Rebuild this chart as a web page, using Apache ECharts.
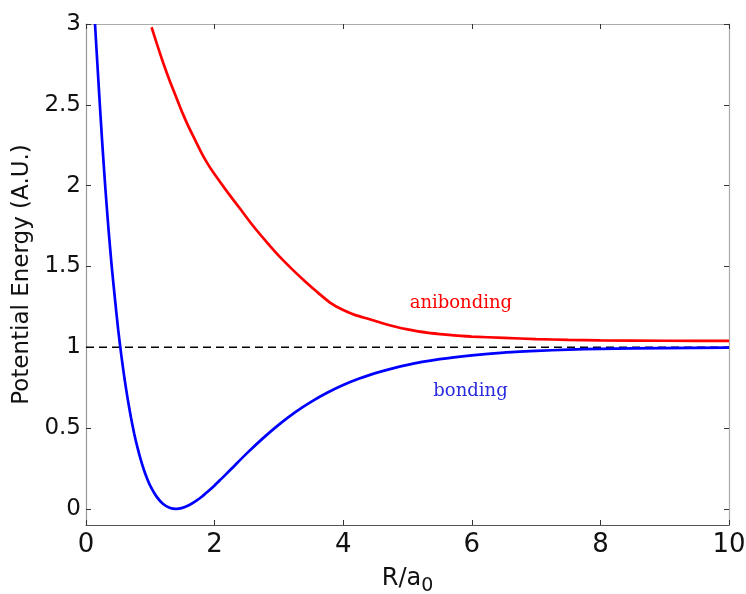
<!DOCTYPE html>
<html>
<head>
<meta charset="utf-8">
<script src="https://cdn.jsdelivr.net/npm/echarts@6/dist/echarts.min.js"></script>
<style>
  html, body { margin: 0; padding: 0; background: #fff; }
  #chart { width: 746px; height: 594px; }
</style>
</head>
<body>
<div id="chart"></div>
<script>
// Internuclear separation R/a0 and potential energy (A.U.) for the two states
const bondingR = [0.14, 0.2, 0.25, 0.3, 0.35, 0.4, 0.45, 0.5, 0.55, 0.6, 0.65, 0.7, 0.75, 0.8, 0.85, 0.9, 0.95,
  1.0, 1.1, 1.2, 1.3, 1.4, 1.5, 1.6, 1.7, 1.8, 1.9, 2.0, 2.1, 2.25, 2.5, 2.75, 3.0, 3.25, 3.5, 3.75,
  4.0, 4.25, 4.5, 5.0, 5.5, 6.0, 6.5, 7.0, 7.5, 8.0, 9.0, 10.0];
const bondingE = [3.00, 2.60, 2.28, 1.99, 1.73, 1.50, 1.30, 1.11, 0.948, 0.803, 0.676, 0.564, 0.465, 0.380, 0.306, 0.242, 0.188,
  0.142, 0.074, 0.030, 0.007, 0.000, 0.006, 0.022, 0.046, 0.075, 0.109, 0.145, 0.184, 0.243, 0.343, 0.436, 0.521, 0.597, 0.662, 0.718,
  0.766, 0.806, 0.840, 0.891, 0.926, 0.950, 0.967, 0.977, 0.985, 0.990, 0.995, 0.998];

const antibondingR = [1.02, 1.1, 1.2, 1.3, 1.4, 1.5, 1.6, 1.7, 1.8, 1.9, 2.0, 2.2, 2.4, 2.6, 2.8, 3.0, 3.2, 3.4, 3.6, 3.8,
  4.0, 4.2, 4.4, 4.6, 4.8, 5.0, 5.3, 5.6, 6.0, 6.5, 7.0, 7.5, 8.0, 9.0, 10.0];
const antibondingE = [2.98, 2.88, 2.76, 2.65, 2.55, 2.45, 2.36, 2.28, 2.20, 2.13, 2.07, 1.96, 1.855, 1.75, 1.655, 1.565, 1.485, 1.41, 1.34, 1.275,
  1.23, 1.197, 1.175, 1.15, 1.128, 1.11, 1.09, 1.078, 1.066, 1.058, 1.050, 1.046, 1.043, 1.040, 1.039];

// Separated-atom reference level
const referenceR = [0, 10];
const referenceE = [1, 1];

const xTicks = [0, 2, 4, 6, 8, 10];
const yTicks = [0, 0.5, 1, 1.5, 2, 2.5, 3];

const curveLabels = [
  { text: 'anibonding', r: 5.83, e: 1.27, color: '#ff0000' },
  { text: 'bonding', r: 5.98, e: 0.73, color: '#2a2ade' }
];

const pairs = (xs, ys) => xs.map((x, i) => [x, ys[i]]);

const chart = echarts.init(document.getElementById('chart'), null, { renderer: 'canvas' });

const tickFont = 'DejaVu Sans';
const xAxisBase = {
  type: 'value', min: 0, max: 10,
  splitLine: { show: false },
  axisTick: { inside: true, length: 5, customValues: xTicks, lineStyle: { color: '#333', width: 1 } }
};
const yAxisBase = {
  type: 'value', min: -0.1, max: 3,
  splitLine: { show: false },
  axisTick: { inside: true, length: 5, customValues: yTicks, lineStyle: { color: '#333', width: 1 } }
};

function labelPoint(item) {
  return {
    symbol: 'circle', symbolSize: 1, silent: true,
    itemStyle: { color: 'rgba(0,0,0,0)' },
    data: [{ coord: [item.r, item.e] }],
    label: { show: true, position: 'inside', formatter: item.text,
      fontFamily: 'DejaVu Serif', fontSize: 18, color: item.color }
  };
}

chart.setOption({
  backgroundColor: '#ffffff',
  animation: false,
  grid: { left: 86, right: 17, top: 24, bottom: 69, containLabel: false, outerBoundsMode: 'none' },
  xAxis: [
    Object.assign({}, xAxisBase, {
      position: 'bottom',
      axisLine: { show: true, onZero: false, lineStyle: { color: '#555', width: 1.2 } },
      axisLabel: { customValues: xTicks, fontFamily: tickFont, fontSize: 26, color: '#111', margin: 7 },
      name: 'R/a{sub|0}',
      nameLocation: 'middle',
      nameGap: 36,
      nameTextStyle: {
        fontFamily: tickFont, fontSize: 24, color: '#111',
        rich: { sub: { fontFamily: tickFont, fontSize: 19, color: '#111', verticalAlign: 'bottom', padding: [16, 0, 0, 0] } }
      }
    }),
    Object.assign({}, xAxisBase, {
      position: 'top',
      axisLine: { show: true, onZero: false, lineStyle: { color: '#aaa', width: 1.2 } },
      axisLabel: { show: false }
    })
  ],
  yAxis: [
    Object.assign({}, yAxisBase, {
      position: 'left',
      axisLine: { show: true, onZero: false, lineStyle: { color: '#999', width: 1.2 } },
      axisLabel: { customValues: yTicks, fontFamily: tickFont, fontSize: 23, color: '#111', margin: 5 },
      name: 'Potential Energy (A.U.)',
      nameLocation: 'middle',
      nameGap: 52,
      nameTextStyle: { fontFamily: tickFont, fontSize: 23, color: '#111' }
    }),
    Object.assign({}, yAxisBase, {
      position: 'right',
      axisLine: { show: true, onZero: false, lineStyle: { color: '#aaa', width: 1.2 } },
      axisLabel: { show: false }
    })
  ],
  series: [
    {
      name: 'reference', type: 'line', xAxisIndex: 0, yAxisIndex: 0,
      data: pairs(referenceR, referenceE), showSymbol: false, silent: true,
      lineStyle: { color: '#000', width: 1.6, type: [8, 5] }, z: 1
    },
    {
      name: 'antibonding', type: 'line', xAxisIndex: 0, yAxisIndex: 0,
      data: pairs(antibondingR, antibondingE), showSymbol: false, clip: true,
      smooth: 0.2,
      lineStyle: { color: '#ff0000', width: 2.7 }, z: 3,
      markPoint: labelPoint(curveLabels[0])
    },
    {
      name: 'bonding', type: 'line', xAxisIndex: 0, yAxisIndex: 0,
      data: pairs(bondingR, bondingE), showSymbol: false, clip: true,
      smooth: 0.2,
      lineStyle: { color: '#0000ff', width: 2.7 }, z: 4,
      markPoint: labelPoint(curveLabels[1])
    }
  ]
});
</script>
</body>
</html>
